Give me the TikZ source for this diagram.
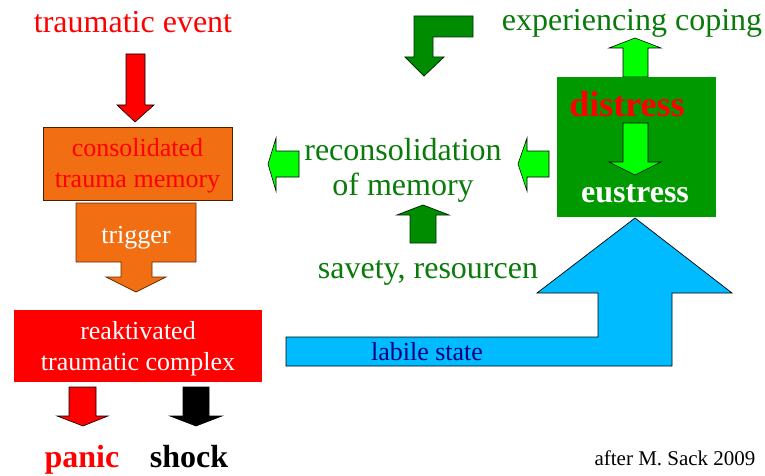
\documentclass[tikz,border=0pt]{standalone}
\usepackage{fontspec}
\setmainfont{Liberation Serif}
\definecolor{orng}{HTML}{F26E12}
\definecolor{dgreen}{HTML}{0A7A0A}
\definecolor{boxgreen}{HTML}{009900}
\definecolor{lgreen}{HTML}{00FF00}
\definecolor{arrgreen}{HTML}{008C00}
\definecolor{skyb}{HTML}{00BBFF}
\definecolor{navyt}{HTML}{000080}
\tikzset{
  fs/.style={font=\fontsize{#1}{#1}\selectfont},
  txt/.style={anchor=base, inner sep=0pt},
  blk/.style={draw=black, line width=0.6pt, line join=miter},
}
\begin{document}
\begin{tikzpicture}[x=1pt,y=-1pt]
\useasboundingbox (0,0) rectangle (765,476);
% --- left column ---
\node[txt, fs=32, text=red] (te) at (133,33) {traumatic event};
\draw[blk, fill=red] (126,54) -- (145,54) -- (145,105) -- (154,105) -- (135,122) -- (117,105) -- (126,105) -- cycle;
\node[draw=black!70!orng, line width=0.8pt, fill=orng, minimum width=189pt, minimum height=73pt, inner sep=0pt] (ctm) at (137.5,163.5) {};
\node[txt, fs=26, text=red] at (137.5,157) {consolidated};
\node[txt, fs=26, text=red] at (137.5,187) {trauma memory};
% trigger callout
\draw[draw=black!60!orng, line width=0.8pt, fill=orng] (76,203) -- (196,203) -- (196,262) -- (152,262) -- (152,277) -- (166,277) -- (136,292) -- (106,277) -- (121,277) -- (121,262) -- (76,262) -- cycle;
\node[txt, fs=26, text=white] (trig) at (136,243) {trigger};
% reactivated complex
\node[fill=red, minimum width=248pt, minimum height=72pt, inner sep=0pt] (rtc) at (138,346) {};
\node[txt, fs=26, text=white] at (138,339) {reaktivated};
\node[txt, fs=26, text=white] at (138,370) {traumatic complex};
\draw[blk, fill=red] (69,387) -- (96,387) -- (96,416) -- (108,416) -- (83,426) -- (57,416) -- (69,416) -- cycle;
\draw[blk, fill=black] (183,387) -- (209,387) -- (209,416) -- (222,416) -- (196,426) -- (170,416) -- (183,416) -- cycle;
\node[txt, fs=32, text=red, font=\fontsize{32}{32}\selectfont\bfseries] (panic) at (82,467) {panic};
\node[txt, font=\fontsize{32}{32}\selectfont\bfseries] (shock) at (189,467) {shock};
% --- middle ---
\draw[draw=black!70!arrgreen, line width=0.8pt, fill=arrgreen] (414,16) -- (473,16) -- (473,37) -- (433,37) -- (433,57) -- (444,57) -- (424,76) -- (405,57) -- (414,57) -- cycle;
\draw[blk, fill=lgreen] (299,151) -- (276,151) -- (276,138) -- (268,164) -- (276,191) -- (276,177) -- (299,177) -- cycle;
\draw[blk, fill=lgreen] (549,151) -- (527,151) -- (527,138) -- (518,164) -- (527,191) -- (527,177) -- (549,177) -- cycle;
\node[txt, fs=32, text=dgreen] (rec) at (403,160) {reconsolidation};
\node[txt, fs=32, text=dgreen] at (403,195) {of memory};
\draw[draw=black!70!arrgreen, line width=0.8pt, fill=arrgreen] (410,243) -- (436,243) -- (436,215) -- (449,215) -- (423,205) -- (397,215) -- (410,215) -- cycle;
\node[txt, fs=32, text=dgreen] (sav) at (428,278) {savety, resourcen};
% --- right ---
\node[txt, fs=32, text=dgreen] (exp) at (632,31) {experiencing coping};
\draw[blk, fill=lgreen] (623,77) -- (623,48) -- (609,48) -- (635,38) -- (661,48) -- (648,48) -- (648,77) -- cycle;
\node[fill=boxgreen, minimum width=159pt, minimum height=140pt, inner sep=0pt] (box) at (636.5,147) {};
\node[txt, text=red, font=\fontsize{36}{36}\selectfont\bfseries] (dis) at (627,117) {distress};
\draw[blk, fill=lgreen] (623,123) -- (648,123) -- (648,162) -- (661,162) -- (635,175) -- (609,162) -- (623,162) -- cycle;
\node[txt, text=white, font=\fontsize{32}{32}\selectfont\bfseries] (eus) at (635,202) {eustress};
% blue arrow
\draw[blk, line width=0.7pt, fill=skyb] (286,337) -- (598,337) -- (598,293) -- (537,293) -- (635,218) -- (732,293) -- (672,293) -- (672,366) -- (286,366) -- cycle;
\node[txt, fs=26, text=navyt] (lab) at (427,360) {labile state};
\node[txt, fs=21] (aft) at (675,465) {after M. Sack 2009};
\end{tikzpicture}
\end{document}
